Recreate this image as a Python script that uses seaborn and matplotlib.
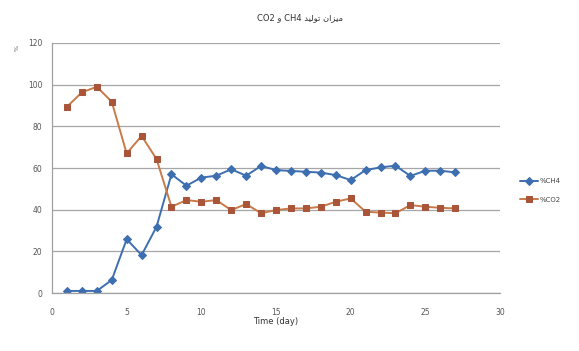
import matplotlib
matplotlib.use("Agg")
import matplotlib.pyplot as plt
import seaborn as sns
import pandas as pd

# Daily gas composition (%) of the produced biogas
days = list(range(1, 28))
ch4 = [1, 1, 1, 6.2, 25.8, 18.2, 31.8, 57, 51.5, 55.4, 56.3, 59.4, 56.3, 61,
       59, 58.6, 58.2, 57.8, 56.6, 54.2, 59, 60.3, 61.1, 56.2, 58.7, 58.7, 57.9]
co2 = [89.4, 96.3, 99, 91.8, 67, 75.4, 64.3, 41.4, 44.6, 43.8, 44.6, 39.8, 42.7, 38.3,
       39.8, 40.6, 40.6, 41.4, 43.8, 45.4, 39, 38.6, 38.3, 42.2, 41.4, 40.9, 40.6]
series_names = ["%CH4", "%CO2"]
x_ticks = [0, 5, 10, 15, 20, 25, 30]
y_ticks = [0, 20, 40, 60, 80, 100, 120]

# Title: "CO2 و CH4" followed by the Persian words in visual (left-to-right) order,
# using Arabic presentation forms since matplotlib does no shaping.
tolid_visual = "\uFEAA\uFEF4\uFEDF\uFEEE\uFE97"
mizan_visual = "\uFEE5\uFE8D\uFEB0\uFEF4\uFEE3"
title_text = "CO2 \uFEED CH4 " + tolid_visual + " " + mizan_visual

df = pd.DataFrame({
    "day": days * 2,
    "value": ch4 + co2,
    "gas": [series_names[0]] * len(days) + [series_names[1]] * len(days),
})

sns.set_theme(style="white")
plt.rcParams["font.family"] = ["DejaVu Sans"]

fig = plt.figure(figsize=(5.79, 3.51), dpi=100)
ax = fig.add_axes([0.0898, 0.1652, 0.7738, 0.7123])

blue = "#3d6fb0"
orange_line = "#c87a48"
orange_mark = "#a9553a"

sns.lineplot(data=df[df.gas == series_names[0]], x="day", y="value", ax=ax,
             color=blue, marker="D", markersize=3.6, markeredgecolor=blue,
             linewidth=1.4, label=series_names[0])
sns.lineplot(data=df[df.gas == series_names[1]], x="day", y="value", ax=ax,
             color=orange_line, marker="s", markersize=4.2,
             markerfacecolor=orange_mark, markeredgecolor=orange_mark,
             linewidth=1.4, label=series_names[1])

ax.set_xlim(0, 30)
ax.set_ylim(0, 120)
ax.set_xticks(x_ticks)
ax.set_yticks(y_ticks)
ax.tick_params(axis="y", labelsize=5.5, colors="#555555", length=0, pad=7)
ax.tick_params(axis="x", labelsize=5.5, colors="#555555", length=0, pad=11)
ax.yaxis.grid(True, color="#a6a6a6", linewidth=0.9)
ax.xaxis.grid(False)
ax.set_axisbelow(True)
for side in ["top", "right"]:
    ax.spines[side].set_visible(False)
for side in ["left", "bottom"]:
    ax.spines[side].set_color("#a0a0a0")
    ax.spines[side].set_linewidth(0.9)

ax.set_xlabel("Time (day)", fontsize=6, color="#333333", labelpad=0)
ax.set_ylabel("")
fig.text(17 / 579, 1 - 48 / 351, "%", fontsize=4.5, color="#555555",
         ha="center", va="center", rotation=90)
fig.text(300 / 579, 1 - 18 / 351, title_text, fontsize=6, color="#333333",
         ha="center", va="center")

leg = ax.legend(loc="center left", bbox_to_anchor=(1.03, 0.41), frameon=False,
                fontsize=5, handlelength=2.6, handletextpad=0.3, labelspacing=1.8,
                labelcolor="#444444")

fig.savefig("out.png", dpi=100, facecolor="white")
